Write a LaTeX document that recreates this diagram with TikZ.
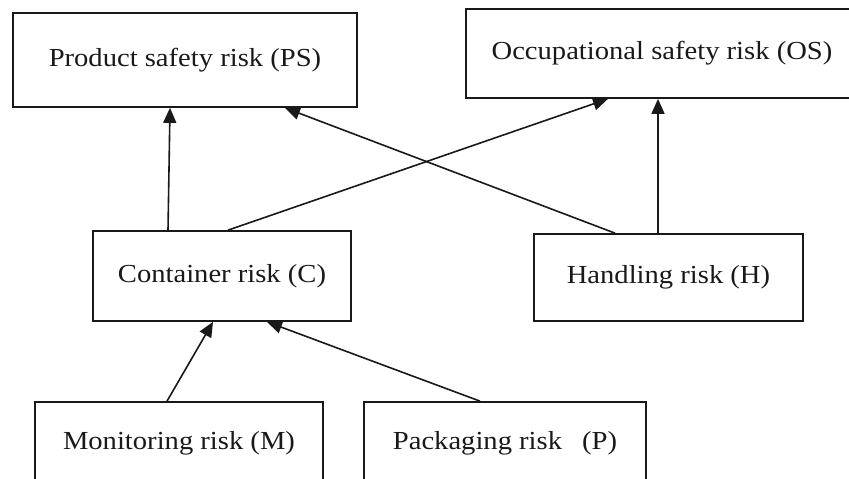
\documentclass[tikz,border=0pt]{standalone}
\usepackage{fontspec}
\setmainfont{Liberation Serif}[FakeStretch=1.1]
\usetikzlibrary{arrows.meta}
\begin{document}
\begin{tikzpicture}[x=1pt,y=-1pt,
  box/.style={draw=black!90, line width=1.7pt, rectangle, inner sep=0pt,
    font=\fontsize{26}{30}\selectfont, text=black!90},
  arr/.style={draw=black!90, line width=1.6pt, -{Triangle[length=15pt,width=13pt]}}]
\useasboundingbox (0,0) rectangle (849,479);
\clip (0,0) rectangle (849,479);
\fill[white] (0,0) rectangle (849,479);
\node[box, minimum width=344pt, minimum height=94pt] (PS) at (185,60) {Product safety risk (PS)};
\node[box, minimum width=392pt, minimum height=89pt] (OS) at (662,53.5) {Occupational safety risk (OS)};
\node[box, minimum width=258pt, minimum height=90pt] (C) at (222,276) {Container risk (C)};
\node[box, minimum width=269pt, minimum height=87pt] (H) at (668.5,277.5) {Handling risk (H)};
\node[box, minimum width=288pt, minimum height=82pt] (M) at (179,443) {Monitoring risk (M)};
\node[box, minimum width=282pt, minimum height=82pt] (P) at (505,443) {Packaging risk\hspace{20pt}(P)};
\draw[arr] ([xshift=-54pt]C.north) -- ([xshift=-15pt]PS.south);
\draw[arr] ([xshift=6pt]C.north) -- ([xshift=-54pt]OS.south);
\draw[arr] ([xshift=-53.5pt]H.north) -- ([xshift=100pt]PS.south);
\draw[arr] ([xshift=-10.5pt]H.north) -- ([xshift=-4pt]OS.south);
\draw[arr] ([xshift=-12pt]M.north) -- ([xshift=-9pt]C.south);
\draw[arr] ([xshift=-25pt]P.north) -- ([xshift=45pt]C.south);
\end{tikzpicture}
\end{document}
